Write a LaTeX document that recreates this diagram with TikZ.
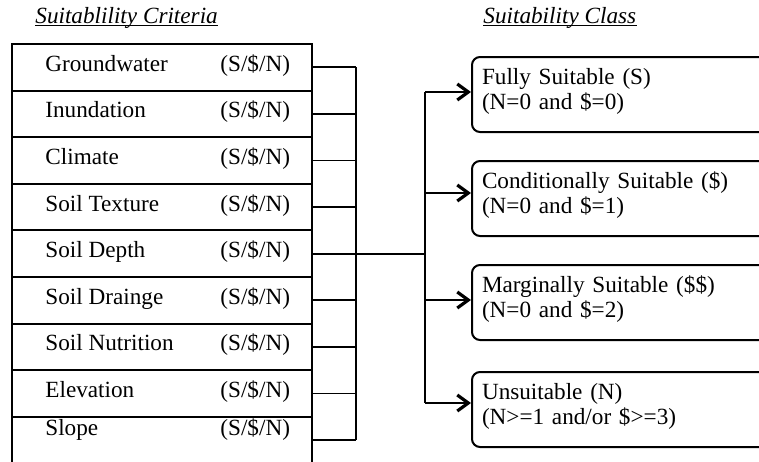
\documentclass[tikz,border=0pt]{standalone}
\usepackage{fontspec}
\setmainfont{Liberation Serif}
\usetikzlibrary{arrows.meta}
\tikzset{
	row/.style={draw, line width=1pt, minimum width=150pt, minimum height=23.3pt, inner sep=0},
	crit/.style={anchor=base west, inner sep=0},
	link/.style={line width=0.9pt},
	arr/.style={line width=0.9pt, -{Straight Barb[length=5.5pt, width=8pt, line width=1.6pt]}},
	cls/.style={draw, line width=1pt, rounded corners=4pt, minimum width=159pt, minimum height=37.5pt, text width=149pt, align=left, inner xsep=5pt, text depth=18pt},
}
\begin{document}
\begin{tikzpicture}[x=0.5pt, y=-0.5pt, font=\fontsize{11.6}{12.5}\selectfont]
	\useasboundingbox (0,0) rectangle (759,461);
	\clip (0,0) rectangle (759,461);
	% titles
	\node[crit, font=\fontsize{11.6}{12.5}\selectfont\itshape] (tcrit) at (35,23) {Suitablility Criteria};
	\draw[line width=0.6pt] ([yshift=-1.2pt]tcrit.base west) -- ([yshift=-1.2pt]tcrit.base east);
	\node[crit, font=\fontsize{11.6}{12.5}\selectfont\itshape] (tclass) at (483,23) {Suitability Class};
	\draw[line width=0.6pt] ([yshift=-1.2pt]tclass.base west) -- ([yshift=-1.2pt]tclass.base east);
	% criteria table
	\foreach \i/\crit/\dy in {1/Groundwater/4,2/Inundation/4,3/Climate/4,4/Soil Texture/4,5/Soil Depth/4,6/Soil Drainge/4,7/Soil Nutrition/4,8/Elevation/4,9/Slope/-5}
		{
			\node[row] (r\i) at (162, {67.3+46.6*(\i-1)}) {};
			\node[crit] (c\i) at (45, {67.3+46.6*(\i-1)+\dy}) {\crit};
			\node[crit] (v\i) at (220, {67.3+46.6*(\i-1)+\dy}) {(S/\$/N)};
		}
	\coordinate (busA) at (356,0);
	\coordinate (busB) at (425,0);
	\foreach \i in {1,...,9}
		{
			\draw[link] (r\i.east) -- (r\i.east -| busA);
		}
	\draw[link] (r1.east -| busA) -- (r9.east -| busA);
	\draw[link] (r5.east -| busA) -- (r5.east -| busB);
	% suitability classes
	\foreach \i/\yc/\ya/\txt in {1/94.5/92/{Fully Suitable (S)\\(N=0 and \$=0)},2/198.5/193/{Conditionally Suitable (\$)\\(N=0 and \$=1)},3/302.5/300/{Marginally Suitable (\$\$)\\(N=0 and \$=2)},4/409.5/403/{Unsuitable (N)\\(N>=1 and/or \$>=3)}}
		{
			\node[cls] (k\i) at (631,\yc) {\txt};
			\coordinate (a\i) at (425,\ya);
			\draw[arr] (a\i) -- (a\i -| k\i.west);
		}
	\draw[link] (a1) -- (a4);
\end{tikzpicture}
\end{document}
